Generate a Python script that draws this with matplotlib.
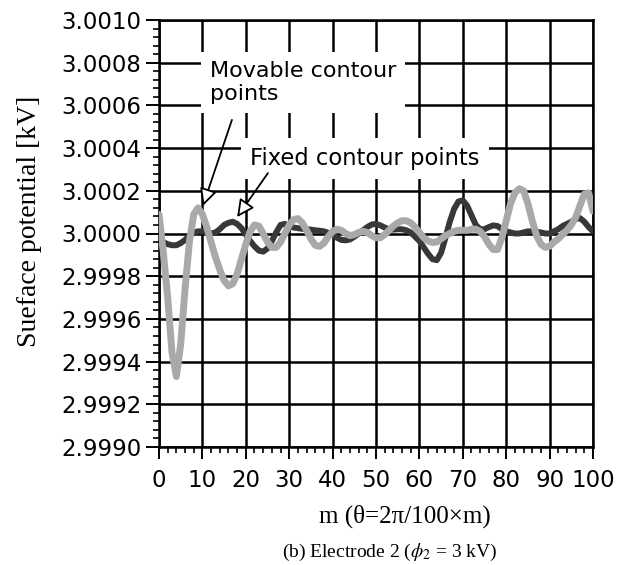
import numpy as np
import matplotlib
matplotlib.use("Agg")
import matplotlib.pyplot as plt
from matplotlib.ticker import MultipleLocator, FormatStrFormatter

# ---- data (offsets, in units of 1e-4 kV around 3 kV) ----
m = np.arange(0, 101, 1)
base_kv = 3.0
movable_offset_e4 = [
    0.9, -0.9, -3.0, -5.6, -6.7, -5.2, -2.6, -0.4, 0.9, 1.2,
    0.9, 0.3, -0.4, -1.1, -1.7, -2.2, -2.45, -2.35, -1.9, -1.2,
    -0.5, 0.1, 0.4, 0.35, 0.0, -0.4, -0.65, -0.65, -0.4, 0.0,
    0.4, 0.65, 0.7, 0.5, 0.15, -0.25, -0.55, -0.6, -0.45, -0.15,
    0.1, 0.2, 0.15, 0.0, -0.1, -0.05, 0.05, 0.1, 0.05, -0.1,
    -0.2, -0.2, -0.05, 0.15, 0.35, 0.5, 0.6, 0.6, 0.5, 0.3,
    0.05, -0.2, -0.35, -0.42, -0.4, -0.25, -0.1, 0.0, 0.1, 0.15,
    0.15, 0.15, 0.2, 0.2, 0.1, -0.15, -0.5, -0.75, -0.75, -0.2,
    0.6, 1.4, 1.9, 2.1, 2.0, 1.4, 0.6, -0.1, -0.5, -0.65,
    -0.6, -0.4, -0.25, -0.05, 0.15, 0.4, 0.75, 1.3, 1.85, 1.9,
    1.05]
fixed_offset_e4 = [
    -0.25, -0.4, -0.5, -0.55, -0.55, -0.45, -0.3, -0.1, 0.05, 0.1,
    0.1, 0.05, 0.0, 0.05, 0.2, 0.4, 0.5, 0.55, 0.45, 0.25,
    -0.05, -0.35, -0.6, -0.8, -0.85, -0.7, -0.35, 0.05, 0.4, 0.45,
    0.35, 0.28, 0.25, 0.22, 0.2, 0.18, 0.15, 0.13, 0.1, 0.03,
    -0.05, -0.2, -0.3, -0.32, -0.28, -0.15, 0.0, 0.15, 0.3, 0.42,
    0.45, 0.38, 0.28, 0.2, 0.18, 0.2, 0.2, 0.15, 0.05, -0.15,
    -0.35, -0.65, -0.95, -1.2, -1.25, -0.9, -0.2, 0.55, 1.15, 1.5,
    1.55, 1.3, 0.85, 0.4, 0.2, 0.2, 0.3, 0.38, 0.35, 0.2,
    0.1, 0.05, 0.0, 0.0, 0.05, 0.1, 0.1, 0.08, 0.05, 0.0,
    0.0, 0.1, 0.2, 0.35, 0.45, 0.55, 0.68, 0.72, 0.55, 0.3,
    0.1]
movable = base_kv + np.array(movable_offset_e4) * 1e-4
fixed = base_kv + np.array(fixed_offset_e4) * 1e-4

xticks = list(range(0, 101, 10))
ylim = (2.9990, 3.0010)

# ---- figure ----
plt.rcParams["mathtext.fontset"] = "stix"
fig = plt.figure(figsize=(6.27, 5.65), dpi=100)
ax = fig.add_axes([159/627, 1-447/565, (593-159)/627, (447-20)/565])

ax.plot(m, fixed, color="#383838", lw=4.3, solid_capstyle="round",
        solid_joinstyle="round", zorder=3)
ax.plot(m, movable, color="#a9a9a9", lw=5.0, solid_capstyle="round",
        solid_joinstyle="round", zorder=4)

ax.set_xlim(0, 100)
ax.set_ylim(*ylim)
ax.set_xticks(xticks)
ax.xaxis.set_minor_locator(MultipleLocator(2))
ax.yaxis.set_major_locator(MultipleLocator(0.0002))
ax.yaxis.set_minor_locator(MultipleLocator(0.00004))
ax.yaxis.set_major_formatter(FormatStrFormatter("%.4f"))

ax.grid(True, which="major", color="black", lw=1.8, zorder=1)
for s in ax.spines.values():
    s.set_linewidth(1.8)
    s.set_color("black")

ax.tick_params(axis="both", which="major", direction="out", width=1.4,
               labelsize=16.5, colors="black")
ax.tick_params(axis="x", which="major", length=8.5, pad=7)
ax.tick_params(axis="y", which="major", length=9.5, pad=3)
ax.tick_params(axis="both", which="minor", direction="out", length=4.3, width=1.2)
for lbl in ax.get_xticklabels() + ax.get_yticklabels():
    lbl.set_family("DejaVu Sans")

# ---- annotations ----
ax.text(11.75, 3.00081, "Movable contour\npoints", fontsize=16,
        family="DejaVu Sans", ha="left", va="top", linespacing=1.2, zorder=6,
        bbox=dict(boxstyle="square,pad=0.4", fc="white", ec="none"))
ax.text(21.0, 3.000405, "Fixed contour points", fontsize=16.3,
        family="DejaVu Sans", ha="left", va="top", zorder=6,
        bbox=dict(boxstyle="square,pad=0.4", fc="white", ec="none"))

arrow_kw = dict(arrowstyle="-|>,head_length=0.7,head_width=0.35",
                fc="white", ec="black", lw=1.3, mutation_scale=15,
                shrinkA=0, shrinkB=0)
ax.annotate("", xy=(10.1, 3.000129), xytext=(16.8, 3.000532),
            arrowprops=arrow_kw, zorder=7)
ax.annotate("", xy=(18.0, 3.000077), xytext=(25.1, 3.000283),
            arrowprops=arrow_kw, zorder=7)

# ---- labels ----
fig.text(29/627, 1-221/565, "Sueface potential [kV]", rotation=90,
         ha="center", va="center", fontsize=20, family="Liberation Serif")
fig.text(405/627, 1-516/565, "m (θ=2π/100×m)", ha="center", va="center",
         fontsize=18, family="Liberation Serif")
fig.text(390/627, 1-552/565, r"(b) Electrode 2 ($\phi_2$ = 3 kV)",
         ha="center", va="center", fontsize=14, family="Liberation Serif")

fig.savefig("out.png", dpi=100)
